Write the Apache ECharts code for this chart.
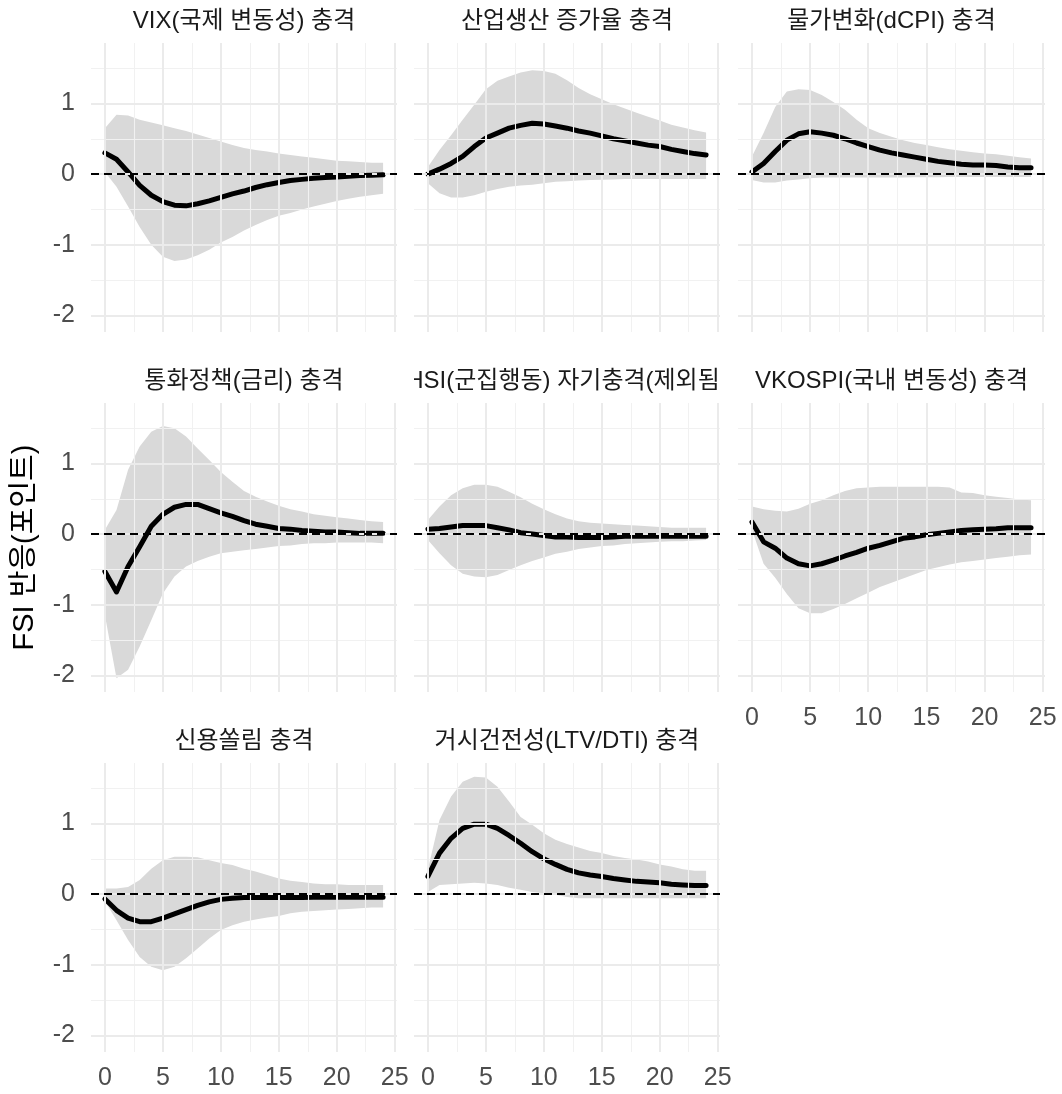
<!DOCTYPE html>
<html><head><meta charset="utf-8">
<script src="https://cdn.jsdelivr.net/npm/echarts@6/dist/echarts.min.js"></script>
<style>html,body{margin:0;padding:0;background:#fff}#c{width:1062px;height:1094px}</style>
</head><body><div id="c"></div>
<script>
const horizons = [0,1,2,3,4,5,6,7,8,9,10,11,12,13,14,15,16,17,18,19,20,21,22,23,24];
const panelTitles = ['VIX(국제 변동성) 충격','산업생산 증가율 충격','물가변화(dCPI) 충격','통화정책(금리) 충격','HSI(군집행동) 자기충격(제외됨)','VKOSPI(국내 변동성) 충격','신용쏠림 충격','거시건전성(LTV/DTI) 충격'];
const xTicks = [0,5,10,15,20,25];
const xMinor = [2.5,7.5,12.5,17.5,22.5];
const yTicks = [-2,-1,0,1];
const yMinor = [-1.5,-0.5,0.5,1.5];
const yAxisTitle = 'FSI 반응(포인트)';

const irfVix = [0.30,0.21,0.03,-0.16,-0.30,-0.39,-0.44,-0.45,-0.42,-0.38,-0.33,-0.28,-0.24,-0.19,-0.15,-0.12,-0.09,-0.075,-0.06,-0.05,-0.04,-0.03,-0.02,-0.015,-0.01];
const hiVix  = [0.65,0.84,0.83,0.77,0.73,0.69,0.65,0.61,0.56,0.51,0.46,0.41,0.37,0.34,0.32,0.29,0.27,0.25,0.23,0.21,0.19,0.18,0.17,0.16,0.16];
const loVix  = [0.03,-0.18,-0.46,-0.75,-1.0,-1.17,-1.23,-1.21,-1.15,-1.07,-0.97,-0.89,-0.80,-0.72,-0.65,-0.59,-0.55,-0.50,-0.46,-0.42,-0.38,-0.35,-0.32,-0.30,-0.28];

const irfIp = [0.0,0.07,0.15,0.25,0.39,0.51,0.58,0.65,0.69,0.72,0.71,0.68,0.65,0.61,0.58,0.54,0.50,0.47,0.44,0.41,0.39,0.35,0.32,0.29,0.27];
const hiIp  = [0.10,0.34,0.55,0.77,0.98,1.20,1.32,1.38,1.44,1.47,1.46,1.42,1.33,1.22,1.13,1.06,0.99,0.93,0.87,0.81,0.76,0.70,0.66,0.62,0.59];
const loIp  = [-0.13,-0.27,-0.33,-0.33,-0.30,-0.25,-0.21,-0.18,-0.16,-0.15,-0.13,-0.11,-0.10,-0.09,-0.085,-0.08,-0.075,-0.07,-0.07,-0.07,-0.07,-0.07,-0.07,-0.07,-0.07];

const irfCpi = [0.03,0.15,0.32,0.48,0.57,0.60,0.58,0.55,0.50,0.44,0.39,0.34,0.30,0.27,0.24,0.21,0.18,0.16,0.14,0.13,0.13,0.12,0.10,0.09,0.09];
const hiCpi  = [0.25,0.58,0.95,1.17,1.20,1.19,1.12,1.02,0.91,0.77,0.65,0.58,0.53,0.48,0.44,0.41,0.38,0.35,0.33,0.31,0.29,0.28,0.26,0.24,0.22];
const loCpi  = [-0.085,-0.12,-0.12,-0.09,-0.075,-0.06,-0.05,-0.05,-0.05,-0.05,-0.05,-0.05,-0.05,-0.05,-0.045,-0.045,-0.045,-0.04,-0.04,-0.04,-0.04,-0.04,-0.04,-0.04,-0.04];

const irfMp = [-0.53,-0.82,-0.46,-0.18,0.11,0.28,0.38,0.42,0.42,0.36,0.30,0.25,0.19,0.14,0.11,0.08,0.07,0.05,0.04,0.03,0.03,0.02,0.01,0.01,0.01];
const hiMp  = [0.06,0.34,0.91,1.24,1.45,1.53,1.50,1.38,1.21,1.05,0.88,0.74,0.61,0.53,0.46,0.40,0.35,0.32,0.28,0.26,0.24,0.22,0.20,0.18,0.17];
const loMp  = [-1.15,-2.04,-1.92,-1.59,-1.22,-0.84,-0.60,-0.46,-0.38,-0.32,-0.27,-0.25,-0.23,-0.21,-0.19,-0.17,-0.16,-0.14,-0.13,-0.13,-0.12,-0.12,-0.12,-0.12,-0.13];

const irfHsi = [0.07,0.08,0.10,0.12,0.12,0.12,0.09,0.06,0.02,0.0,-0.02,-0.04,-0.04,-0.05,-0.05,-0.05,-0.04,-0.03,-0.03,-0.03,-0.03,-0.03,-0.03,-0.03,-0.03];
const hiHsi  = [0.20,0.39,0.55,0.65,0.70,0.70,0.67,0.60,0.52,0.43,0.35,0.28,0.22,0.18,0.16,0.15,0.14,0.13,0.12,0.11,0.10,0.09,0.09,0.09,0.09];
const loHsi  = [-0.085,-0.27,-0.44,-0.56,-0.60,-0.61,-0.58,-0.51,-0.44,-0.38,-0.33,-0.28,-0.25,-0.21,-0.19,-0.17,-0.16,-0.14,-0.13,-0.12,-0.11,-0.10,-0.10,-0.09,-0.085];

const irfVkospi = [0.17,-0.11,-0.20,-0.34,-0.42,-0.45,-0.42,-0.37,-0.31,-0.26,-0.20,-0.16,-0.11,-0.06,-0.04,-0.01,0.01,0.03,0.05,0.06,0.07,0.075,0.09,0.09,0.09];
const hiVkospi  = [0.39,0.35,0.33,0.32,0.36,0.43,0.48,0.55,0.61,0.65,0.66,0.67,0.67,0.67,0.67,0.67,0.67,0.66,0.59,0.58,0.55,0.53,0.51,0.49,0.48];
const loVkospi  = [0.06,-0.42,-0.62,-0.85,-1.05,-1.12,-1.12,-1.06,-0.99,-0.91,-0.83,-0.75,-0.69,-0.63,-0.57,-0.51,-0.47,-0.43,-0.40,-0.38,-0.36,-0.34,-0.32,-0.30,-0.29];

const irfCredit = [-0.07,-0.23,-0.34,-0.39,-0.39,-0.34,-0.28,-0.22,-0.16,-0.11,-0.075,-0.06,-0.05,-0.05,-0.05,-0.05,-0.05,-0.05,-0.045,-0.045,-0.045,-0.045,-0.045,-0.045,-0.045];
const hiCredit  = [0.08,0.08,0.10,0.20,0.36,0.48,0.53,0.53,0.52,0.48,0.44,0.41,0.36,0.32,0.27,0.22,0.19,0.17,0.15,0.14,0.14,0.13,0.13,0.13,0.13];
const loCredit  = [-0.10,-0.37,-0.65,-0.89,-1.03,-1.08,-1.03,-0.91,-0.77,-0.63,-0.51,-0.44,-0.39,-0.36,-0.33,-0.31,-0.27,-0.25,-0.24,-0.23,-0.22,-0.21,-0.20,-0.19,-0.19];

const irfLtv = [0.25,0.58,0.79,0.93,0.99,0.99,0.93,0.83,0.72,0.60,0.50,0.42,0.35,0.30,0.27,0.25,0.22,0.20,0.18,0.17,0.16,0.14,0.13,0.12,0.12];
const hiLtv  = [0.35,1.05,1.38,1.59,1.66,1.65,1.52,1.31,1.09,0.98,0.86,0.77,0.71,0.66,0.61,0.58,0.54,0.51,0.49,0.46,0.42,0.39,0.35,0.33,0.33];
const loLtv  = [0.03,0.13,0.14,0.15,0.16,0.15,0.13,0.09,0.06,0.03,0.01,-0.01,-0.04,-0.06,-0.06,-0.06,-0.06,-0.06,-0.06,-0.06,-0.06,-0.06,-0.06,-0.06,-0.06];

const irfs = [irfVix, irfIp, irfCpi, irfMp, irfHsi, irfVkospi, irfCredit, irfLtv];
const his  = [hiVix, hiIp, hiCpi, hiMp, hiHsi, hiVkospi, hiCredit, hiLtv];
const los  = [loVix, loIp, loCpi, loMp, loHsi, loVkospi, loCredit, loLtv];

// layout
const colLeft = [91, 414, 738];
const colWidth = [306, 306, 307];
const rowTop = [43, 403, 763];
const panelH = 289;
const FONT = '"Liberation Sans", Arial, "Noto Sans CJK KR", sans-serif';
const xMin = -1.2, xMax = 25.2, yMin = -2.236, yMax = 1.856;

const grids = [], xAxes = [], yAxes = [], series = [], graphics = [];

irfs.forEach((irf, i) => {
  const r = Math.floor(i / 3), c = i % 3;
  grids.push({left: colLeft[c], top: rowTop[r], width: colWidth[c], height: panelH, containLabel: false});
  const showX = (i === 5 || i === 6 || i === 7);
  const showY = (c === 0);
  xAxes.push({
    type: 'value', gridIndex: i, min: xMin, max: xMax,
    axisLine: {show: false}, axisTick: {show: false}, splitLine: {show: false},
    axisLabel: {show: showX, customValues: xTicks, margin: 14, color: '#4d4d4d', fontSize: 25, fontFamily: FONT,
      formatter: v => String(v)}
  });
  yAxes.push({
    type: 'value', gridIndex: i, min: yMin, max: yMax,
    axisLine: {show: false}, axisTick: {show: false}, splitLine: {show: false},
    axisLabel: {show: showY, customValues: yTicks, margin: 16, color: '#4d4d4d', fontSize: 25, fontFamily: FONT,
      formatter: v => String(v)}
  });
  const gridLines = [];
  xMinor.forEach(v => gridLines.push({xAxis: v, lineStyle: {color: '#f1f1f1', width: 1.1, type: 'solid'}}));
  yMinor.forEach(v => gridLines.push({yAxis: v, lineStyle: {color: '#f1f1f1', width: 1.1, type: 'solid'}}));
  xTicks.forEach(v => gridLines.push({xAxis: v, lineStyle: {color: '#ebebeb', width: 2, type: 'solid'}}));
  yTicks.forEach(v => gridLines.push({yAxis: v, lineStyle: {color: '#ebebeb', width: 2, type: 'solid'}}));
  series.push({
    type: 'line', xAxisIndex: i, yAxisIndex: i, data: [], silent: true, z: 0,
    markLine: {silent: true, symbol: ['none','none'], label: {show: false}, animation: false, data: gridLines}
  });
  const lo = los[i], hi = his[i];
  const bandData = horizons.map((h, k) => [h, lo[k], hi[k]]);
  series.push({
    type: 'custom', xAxisIndex: i, yAxisIndex: i, z: 1, silent: true,
    data: bandData, encode: {x: 0, y: [1, 2]},
    renderItem: function (params, api) {
      if (params.dataIndex !== 0) return null;
      const upper = bandData.map(d => api.coord([d[0], d[2]]));
      const lower = bandData.map(d => api.coord([d[0], d[1]])).reverse();
      return {type: 'polygon', shape: {points: upper.concat(lower)}, style: {fill: '#d9d9d9', stroke: null}};
    }
  });
  series.push({
    type: 'line', xAxisIndex: i, yAxisIndex: i, data: [], silent: true, z: 2,
    markLine: {silent: true, symbol: ['none','none'], label: {show: false}, animation: false,
      data: [{yAxis: 0, lineStyle: {color: '#000', width: 2, type: [8, 5]}}]}
  });
  series.push({
    type: 'line', xAxisIndex: i, yAxisIndex: i, z: 3, symbol: 'none', silent: true,
    lineStyle: {color: '#000', width: 5, cap: 'round', join: 'round'},
    data: horizons.map((h, k) => [h, irf[k]])
  });
  const stripY = [21, 381, 741][r];
  graphics.push({
    type: 'text', z: 10,
    x: colLeft[c] + colWidth[c] / 2, y: stripY,
    style: {text: panelTitles[i], fill: '#1a1a1a', font: '24px ' + FONT, textAlign: 'center', textVerticalAlign: 'middle'}
  });
});

// strip clipping masks for the second row middle title
graphics.push({type: 'rect', z: 20, shape: {x: colLeft[0] + colWidth[0], y: rowTop[1] - 40, width: colLeft[1] - colLeft[0] - colWidth[0], height: 38}, style: {fill: '#fff'}});
graphics.push({type: 'rect', z: 20, shape: {x: colLeft[1] + colWidth[1], y: rowTop[1] - 40, width: colLeft[2] - colLeft[1] - colWidth[1], height: 38}, style: {fill: '#fff'}});

graphics.push({
  type: 'text', z: 10, x: 25, y: (rowTop[0] + rowTop[2] + panelH) / 2, rotation: Math.PI / 2,
  style: {text: yAxisTitle, fill: '#000', font: '29px ' + FONT, textAlign: 'center', textVerticalAlign: 'middle'}
});

const chart = echarts.init(document.getElementById('c'), null, {renderer: 'canvas'});
chart.setOption({
  animation: false,
  backgroundColor: '#fff',
  grid: grids, xAxis: xAxes, yAxis: yAxes, series: series, graphic: graphics
});
</script></body></html>
